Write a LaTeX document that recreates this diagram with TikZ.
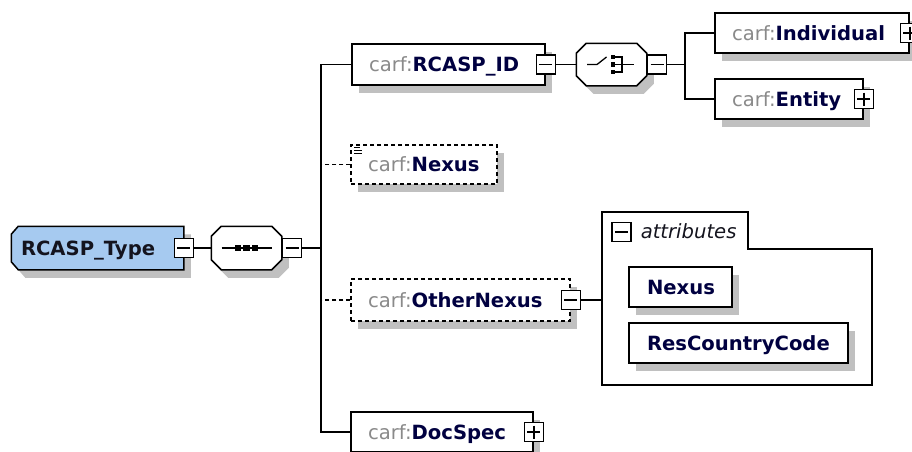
\documentclass[tikz,border=0pt]{standalone}
\usepackage{fontspec}
\setmainfont{DejaVu Sans}
\usetikzlibrary{shadows}
\definecolor{typeblue}{RGB}{166,202,240}
\definecolor{shd}{RGB}{192,192,192}
\definecolor{pref}{RGB}{138,138,138}
\definecolor{nm}{RGB}{0,0,64}
\definecolor{tnm}{RGB}{20,20,30}
\newcommand{\pfx}[1]{{\color{pref}\mdseries #1}}
\newcommand{\enm}[1]{{\color{nm}\bfseries #1}}
\newcommand{\octo}[1]{\path[draw,fill=white,shad] ([xshift=10pt]#1.north west) -- ([xshift=-10pt]#1.north east) -- ([yshift=-10pt]#1.north east) -- ([yshift=10pt]#1.south east) -- ([xshift=-10pt]#1.south east) -- ([xshift=10pt]#1.south west) -- ([yshift=10pt]#1.south west) -- ([yshift=-10pt]#1.north west) -- cycle;}
\begin{document}
\begin{tikzpicture}[x=1pt,y=-1pt,line width=1.5pt,
  shad/.style={drop shadow={shadow xshift=7pt,shadow yshift=-8pt,fill=shd,opacity=1}},
  ebox/.style={draw,fill=white,shad,minimum height=40pt,inner sep=0pt},
  dbox/.style={draw,fill=white,dash pattern=on 4pt off 3pt,shad,minimum height=40pt,inner sep=0pt},
  ghost/.style={inner sep=0pt,draw=none},
  lbl/.style={anchor=base west,inner sep=0pt,font=\fontsize{19.6}{22}\selectfont},
  pm/.style={draw,fill=white,minimum size=19pt,inner sep=0pt,line width=1.5pt},
  minus/.style={pm,path picture={\draw[line width=1.5pt] ([xshift=3pt]path picture bounding box.west) -- ([xshift=-3pt]path picture bounding box.east);}},
  plus/.style={pm,path picture={\draw[line width=1.5pt] ([xshift=3pt]path picture bounding box.west) -- ([xshift=-3pt]path picture bounding box.east) ([yshift=-3pt]path picture bounding box.north) -- ([yshift=3pt]path picture bounding box.south);}},
  dconn/.style={dash pattern=on 4pt off 3pt}
]
\useasboundingbox (0,0) rectangle (912,451);

% ---- root type
\node[ghost,minimum width=171pt,minimum height=42pt] (T) at (97.5,248) {};
\path[draw,fill=typeblue,shad] ([xshift=7pt]T.north west) -- (T.north east) -- (T.south east) -- ([xshift=7pt]T.south west) -- ([yshift=8pt]T.south west) -- ([yshift=-8pt]T.north west) -- cycle;
\node[lbl,text=tnm,font=\fontsize{19.6}{22}\selectfont\bfseries] (Tt) at ([xshift=9pt,yshift=-7pt]T.west) {RCASP\_Type};

% ---- sequence
\node[ghost,minimum width=69pt,minimum height=42pt] (seq) at (246.5,248) {};
\octo{seq}
\draw ([xshift=-25pt]seq.center) -- ([xshift=25pt]seq.center);
\foreach \dx in {-8.5,0,8.5} \fill ([xshift=\dx pt]seq.center) ++(-3.3,-3.3) rectangle ++(6.6,6.6);

% ---- choice
\node[ghost,minimum width=69pt,minimum height=41pt] (ch) at (611.5,64.5) {};
\octo{ch}
\draw[line width=1.3pt] ([xshift=-24.5pt]ch.center) -- ([xshift=-14.5pt]ch.center) -- ([xshift=-5pt,yshift=7.5pt]ch.center);
\foreach \dy in {-7.5,0,7.5} \fill ([xshift=1.5pt,yshift=-\dy pt]ch.center) ++(-2.4,-2.4) rectangle ++(4.8,4.8);
\draw[line width=1.3pt] ([xshift=3.5pt,yshift=7.5pt]ch.center) -- ([xshift=10.5pt,yshift=7.5pt]ch.center) -- ([xshift=10.5pt,yshift=-7.5pt]ch.center) -- ([xshift=3.5pt,yshift=-7.5pt]ch.center);
\draw[line width=1.3pt] ([xshift=3.5pt]ch.center) -- ([xshift=22.5pt]ch.center);

% ---- elements
\node[ebox,minimum width=193pt,minimum height=41pt] (ID) at (448.5,64.5) {};
\node[lbl] (IDt) at ([xshift=17pt,yshift=-7pt]ID.west) {\pfx{carf:}\enm{RCASP\_ID}};
\node[ebox,minimum width=194pt] (Ind) at (812,33) {};
\node[lbl] (Indt) at ([xshift=17pt,yshift=-7pt]Ind.west) {\pfx{carf:}\enm{Individual}};
\node[ebox,minimum width=148pt] (Ent) at (789,99) {};
\node[lbl] (Entt) at ([xshift=17pt,yshift=-7pt]Ent.west) {\pfx{carf:}\enm{Entity}};
\node[dbox,minimum width=146pt,minimum height=39pt] (Nx) at (424,164.5) {};
\node[lbl] (Nxt) at ([xshift=17pt,yshift=-7pt]Nx.west) {\pfx{carf:}\enm{Nexus}};
\foreach \dy/\dl in {3/6,6/8,9/8} \draw[line width=1pt] ([xshift=4pt,yshift=-\dy pt]Nx.north west) -- ++(\dl,0);
\node[dbox,minimum width=219pt,minimum height=42pt] (ON) at (460.5,300) {};
\node[lbl] (ONt) at ([xshift=17pt,yshift=-7pt]ON.west) {\pfx{carf:}\enm{OtherNexus}};
\node[ebox,minimum width=182pt] (DS) at (442,432) {};
\node[lbl] (DSt) at ([xshift=17pt,yshift=-7pt]DS.west) {\pfx{carf:}\enm{DocSpec}};

% ---- attributes group
\node[ghost,minimum width=270pt,minimum height=173pt] (grp) at (737,298.5) {};
\draw[fill=white] (602,212) -- (748,212) -- (748,249) -- (872,249) -- (872,385) -- (602,385) -- cycle;
\node[minus] (mG) at (621.5,232) {};
\node[lbl,text=tnm,font=\fontsize{19.6}{22}\selectfont\itshape] (grpt) at (640,238) {attributes};
\node[ebox,minimum width=103pt] (AN) at (680.5,287) {};
\node[lbl] (ANt) at ([xshift=18pt,yshift=-7pt]AN.west) {\enm{Nexus}};
\node[ebox,minimum width=219pt] (ARC) at (738.5,343) {};
\node[lbl] (ARCt) at ([xshift=18pt,yshift=-7pt]ARC.west) {\enm{ResCountryCode}};

% ---- expand/collapse boxes
\node[minus] (mT) at (T.east) {};
\node[minus,anchor=west] (mS) at (seq.east) {};
\node[minus] (mID) at (ID.east) {};
\node[minus,anchor=west] (mC) at (ch.east) {};
\node[plus] (pInd) at (Ind.east) {};
\node[plus] (pEnt) at (Ent.east) {};
\node[minus] (mON) at (ON.east) {};
\node[plus] (pDS) at (DS.east) {};

% ---- connectors
\coordinate (bus) at (321,248);
\coordinate (bus2) at (685,64.5);
\draw (mT.east) -- (seq.west);
\draw (mS.east) -- (bus);
\draw (ID.west) -| (bus) |- (DS.west);
\draw[dconn] (Nx.west) -- (Nx.west -| bus);
\draw[dconn] (ON.west) -- (ON.west -| bus);
\draw (mID.east) -- (ch.west);
\draw (mC.east) -- (bus2);
\draw (Ind.west) -| (bus2) |- (Ent.west);
\draw (mON.east) -- (mON.east -| grp.west);
\end{tikzpicture}
\end{document}
